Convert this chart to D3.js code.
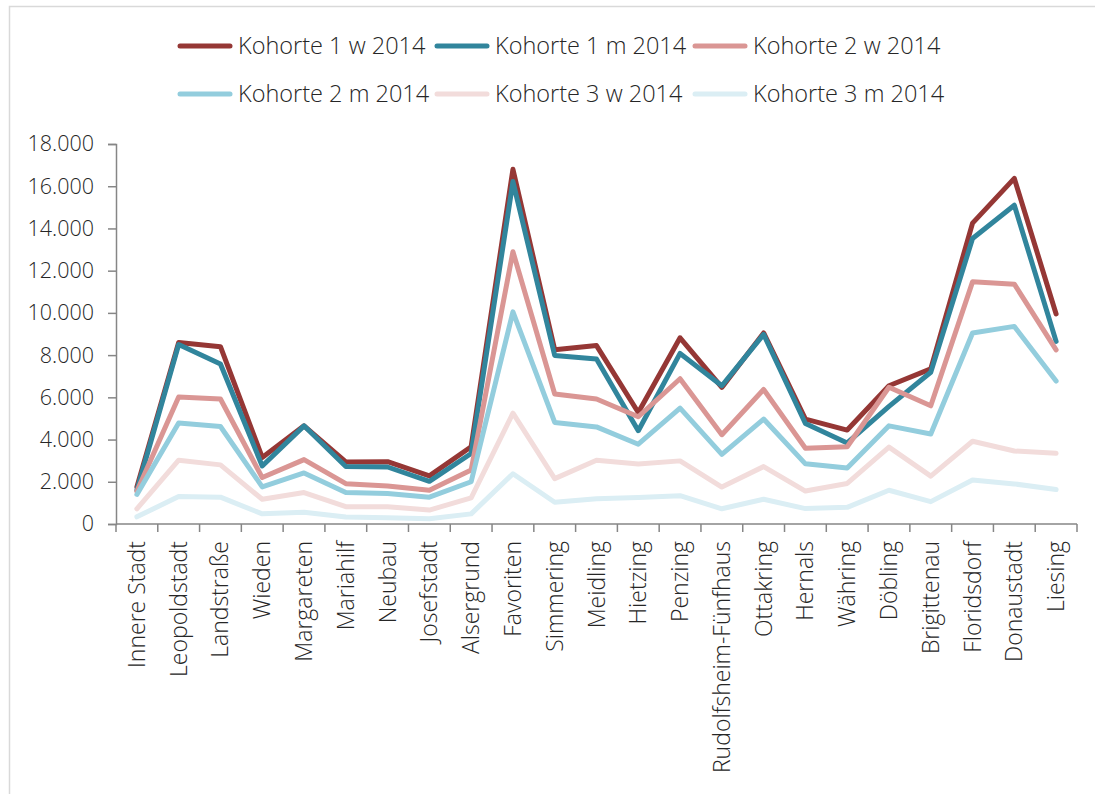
<!DOCTYPE html>
<html>
<head>
<meta charset="utf-8">
<script src="https://cdn.jsdelivr.net/npm/d3@7"></script>
<style>
  body { margin: 0; background: #fff; }
  svg { display: block; font-family: "Open Sans", sans-serif; font-weight: 300; }
</style>
</head>
<body>
<div id="chart"></div>
<script>
const districts = ["Innere Stadt", "Leopoldstadt", "Landstraße", "Wieden", "Margareten",
    "Mariahilf", "Neubau", "Josefstadt", "Alsergrund", "Favoriten", "Simmering",
    "Meidling", "Hietzing", "Penzing", "Rudolfsheim-Fünfhaus", "Ottakring", "Hernals",
    "Währing", "Döbling", "Brigittenau", "Floridsdorf", "Donaustadt", "Liesing"];

const k1w = [1750, 8600, 8400, 3150, 4650, 2940, 2950, 2280, 3660, 16800, 8250, 8450,
    5280, 8820, 6470, 9050, 4970, 4450, 6550, 7350, 14250, 16370, 9950];
const k1m = [1600, 8500, 7580, 2750, 4650, 2720, 2700, 2020, 3340, 16220, 7980, 7820,
    4420, 8080, 6550, 8980, 4760, 3840, 5570, 7190, 13520, 15100, 8650];
const k2w = [1550, 6020, 5920, 2200, 3050, 1910, 1800, 1600, 2560, 12900, 6160, 5920,
    5080, 6880, 4230, 6370, 3590, 3660, 6480, 5600, 11470, 11360, 8250];
const k2m = [1400, 4780, 4620, 1760, 2420, 1490, 1440, 1270, 2000, 10050, 4810, 4600,
    3780, 5490, 3300, 4970, 2850, 2650, 4650, 4260, 9050, 9360, 6770];
const k3w = [720, 3020, 2800, 1170, 1490, 820, 820, 660, 1240, 5250, 2150, 3020,
    2840, 2990, 1750, 2720, 1560, 1920, 3640, 2270, 3920, 3460, 3350];
const k3m = [340, 1300, 1270, 480, 560, 330, 300, 250, 480, 2380, 1030, 1200,
    1250, 1340, 720, 1170, 730, 790, 1600, 1060, 2080, 1900, 1630];

const seriesNames = ["Kohorte 1 w 2014", "Kohorte 1 m 2014", "Kohorte 2 w 2014",
    "Kohorte 2 m 2014", "Kohorte 3 w 2014", "Kohorte 3 m 2014"];
const seriesColors = ["#953735", "#31859c", "#da9694", "#93cddd", "#f2dcdb", "#dbeef4"];
const yTicks = [0, 2000, 4000, 6000, 8000, 10000, 12000, 14000, 16000, 18000];

const series = [k1w, k1m, k2w, k2m, k3w, k3m].map((values, i) => ({
    name: seriesNames[i],
    color: seriesColors[i],
    values: values
}));

const width = 1095, height = 794;
const margin = {left: 116, right: 18, top: 144, bottom: 270};

const svg = d3.select("#chart").append("svg")
    .attr("width", width)
    .attr("height", height);

// chart frame
svg.append("rect")
    .attr("x", 9.5).attr("y", 6.5)
    .attr("width", width + 20).attr("height", height + 20)
    .attr("fill", "none")
    .attr("stroke", "#d9d9d9")
    .attr("stroke-width", 1.5);

const x = d3.scaleBand()
    .domain(districts)
    .range([margin.left, width - margin.right]);

const y = d3.scaleLinear()
    .domain([0, 18000])
    .range([height - margin.bottom, margin.top]);

const de = d3.formatLocale({decimal: ",", thousands: ".", grouping: [3], currency: ["", "€"]});
const fmt = de.format(",.0f");

// y axis
const yAxis = svg.append("g")
    .attr("transform", `translate(${margin.left},0)`)
    .call(d3.axisLeft(y).tickValues(yTicks).tickFormat(fmt).tickSize(8).tickPadding(14));
yAxis.select(".domain").attr("stroke", "#868686").attr("stroke-width", 1.5);
yAxis.selectAll(".tick line").attr("stroke", "#868686").attr("stroke-width", 1.5);
yAxis.selectAll(".tick text")
    .attr("font-size", 21.5)
    .attr("fill", "#262626")
    .attr("font-family", "Open Sans, sans-serif");

// x axis
const baseY = y(0);
const xAxis = svg.append("g");
xAxis.append("line")
    .attr("x1", margin.left).attr("x2", width - margin.right)
    .attr("y1", baseY).attr("y2", baseY)
    .attr("stroke", "#868686").attr("stroke-width", 1.5);
xAxis.selectAll(".xtick")
    .data(districts.concat(["_end"]))
    .enter().append("line")
    .attr("class", "xtick")
    .attr("x1", (d, i) => i < districts.length ? x(d) : x.range()[1])
    .attr("x2", (d, i) => i < districts.length ? x(d) : x.range()[1])
    .attr("y1", baseY).attr("y2", baseY + 8)
    .attr("stroke", "#868686").attr("stroke-width", 1.5);
xAxis.selectAll(".xlabel")
    .data(districts)
    .enter().append("text")
    .attr("class", "xlabel")
    .attr("transform", d => `translate(${x(d) + x.bandwidth() / 2 + 8},${baseY + 17}) rotate(-90)`)
    .attr("text-anchor", "end")
    .attr("font-size", 23)
    .attr("fill", "#262626")
    .text(d => d);

// lines
const line = d3.line()
    .x((d, i) => x(districts[i]) + x.bandwidth() / 2)
    .y(d => y(d));

svg.append("g").selectAll("path")
    .data(series)
    .enter().append("path")
    .attr("d", d => line(d.values))
    .attr("fill", "none")
    .attr("stroke", d => d.color)
    .attr("stroke-width", 5)
    .attr("stroke-linejoin", "round")
    .attr("stroke-linecap", "round");

// legend
const legendCols = [178, 435, 693];
const legendRows = [46, 94];
const legend = svg.append("g");
series.forEach(function(s, i) {
    const lx = legendCols[i % 3];
    const ly = legendRows[Math.floor(i / 3)];
    legend.append("line")
        .attr("x1", lx + 2).attr("x2", lx + 52)
        .attr("y1", ly).attr("y2", ly)
        .attr("stroke", s.color)
        .attr("stroke-width", 5)
        .attr("stroke-linecap", "round");
    legend.append("text")
        .attr("x", lx + 60)
        .attr("y", ly)
        .attr("dy", "0.35em")
        .attr("font-size", 23.5)
        .attr("fill", "#262626")
        .text(s.name);
});
</script>
</body>
</html>
